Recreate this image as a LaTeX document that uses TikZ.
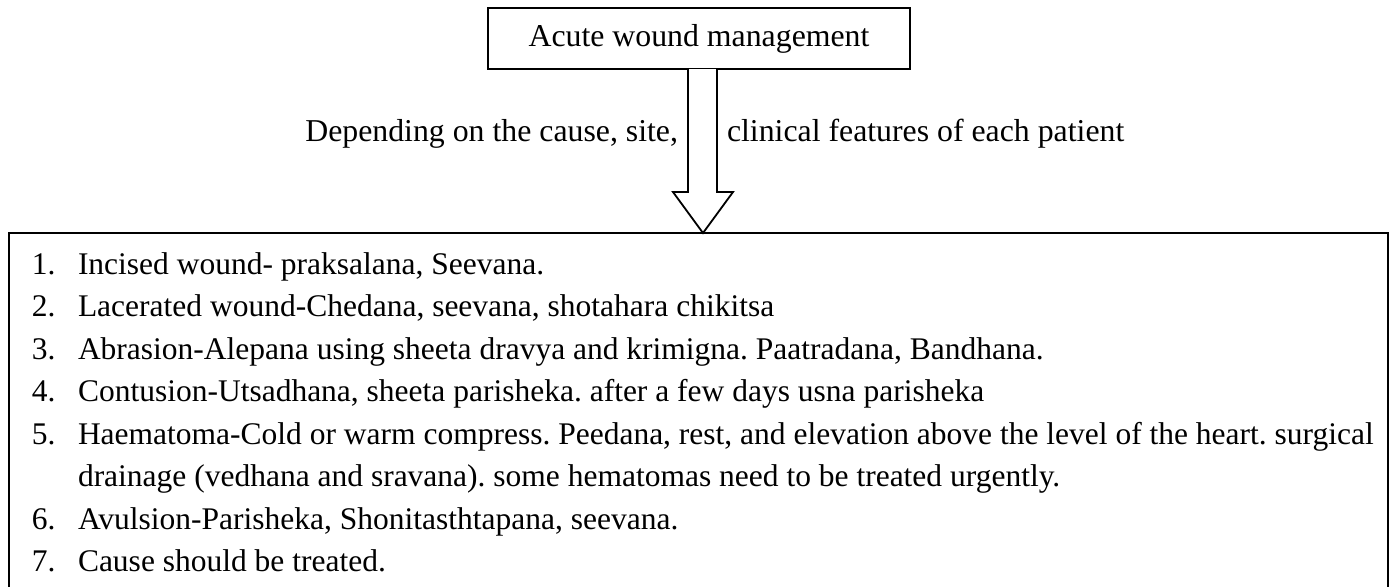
\documentclass[tikz,border=0pt]{standalone}
\usepackage{fontspec}
\setmainfont{Liberation Serif}
\frenchspacing
\begin{document}
\frenchspacing
\begin{tikzpicture}[x=0.5pt,y=-0.5pt,line width=0.9pt,
  txt/.style={font=\fontsize{15.9}{19}\selectfont,inner sep=0pt,outer sep=0pt},
  ltxt/.style={font=\fontsize{15.75}{19}\selectfont,inner sep=0pt,outer sep=0pt},
  box/.style={draw,inner sep=0pt,outer sep=0pt},
  lbl/.style={ltxt,anchor=base west},
  blockarrow/.style={draw,fill=white,line join=miter}]
\useasboundingbox (0,0) rectangle (1393,586);
\clip (0,0) rectangle (1393,586);
\node[box,txt,minimum width=211pt,minimum height=30.5pt] (top) at (699,38.5) {Acute wound management};
\node[box,anchor=north west,minimum width=689.5pt,minimum height=200pt] (list) at (9,233) {};
\coordinate (sl) at (688,0);
\coordinate (sr) at (717,0);
\coordinate (hl) at (673,192);
\coordinate (hr) at (733,192);
\coordinate (ax) at (703,0);
\draw[blockarrow] (top.south -| sl) -- (hl -| sl) -- (hl) -- (list.north -| ax) -- (hr) -- (hr -| sr) -- (top.south -| sr);
\node[txt,anchor=base east] (lt) at (678,141) {Depending on the cause, site,};
\node[txt,anchor=base west] (rt) at (727,141) {clinical features of each patient};
\foreach \n/\y/\t in {
  1/274/{Incised wound- praksalana, Seevana.},
  2/316.5/{Lacerated wound-Chedana, seevana, shotahara chikitsa},
  3/359/{Abrasion-Alepana using sheeta dravya and krimigna. Paatradana, Bandhana.},
  4/401.5/{Contusion-Utsadhana, sheeta parisheka. after a few days usna parisheka},
  5/444/{Haematoma-Cold or warm compress. Peedana, rest, and elevation above the level of the heart. surgical},
  6/529/{Avulsion-Parisheka, Shonitasthtapana, seevana.},
  7/571.5/{Cause should be treated.}}{
  \node[lbl] (num\n) at (32,\y) {\n.};
  \node[lbl] (item\n) at (78,\y) {\t};
}
\node[lbl] (item5b) at (78,486.5) {drainage (vedhana and sravana). some hematomas need to be treated urgently.};
\end{tikzpicture}
\end{document}
